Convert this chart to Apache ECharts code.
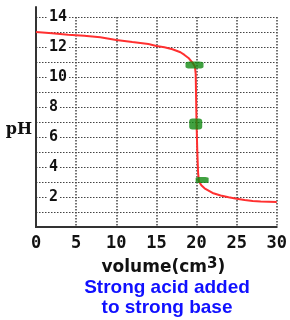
<!DOCTYPE html>
<html><head><meta charset="utf-8">
<script src="https://cdn.jsdelivr.net/npm/echarts@6/dist/echarts.min.js"></script>
<style>html,body{margin:0;padding:0;background:#fff}#c{width:290px;height:320px}</style>
</head><body><div id="c"></div>
<script>
const volume = [0, 2, 4, 6, 8, 10, 12, 14, 15, 16, 17, 18, 18.5, 19, 19.5, 19.8, 19.9, 20.0, 20.1, 20.2, 20.3, 20.6, 21, 22, 23, 24, 25, 26, 27, 28, 29, 30];
const pH = [13.0, 12.91, 12.82, 12.75, 12.65, 12.47, 12.33, 12.2, 12.07, 11.98, 11.85, 11.65, 11.47, 11.27, 10.95, 10.7, 10.2, 7.0, 5.0, 3.6, 3.05, 2.78, 2.58, 2.27, 2.1, 1.98, 1.88, 1.8, 1.74, 1.7, 1.68, 1.66];
const markVolume = [19.75, 19.9, 20.7];
const markPH = [10.8, 6.87, 3.13];
const markSize = [[18, 7], [13, 11], [13, 6]];
const xTicks = [0, 5, 10, 15, 20, 25, 30];
const yLabels = [2, 4, 6, 8, 10, 12, 14];

const chart = echarts.init(document.getElementById('c'), null, {renderer: 'canvas'});
chart.setOption({
  animation: false,
  backgroundColor: '#fff',
  grid: [
    {left: 36, right: 13, top: 17, bottom: 93},
    {left: 36, right: 13, top: 7, bottom: 93}
  ],
  title: {
    text: 'Strong acid added\nto strong base',
    left: 162, top: 273, textAlign: 'center',
    textStyle: {color: '#1010ff', fontFamily: 'Liberation Sans', fontWeight: 'bold', fontSize: 19, lineHeight: 20}
  },
  xAxis: [{
    gridIndex: 0, type: 'value', min: 0, max: 30, interval: 5,
    name: '{a|volume(cm}{s|3}{a|)}',
    nameLocation: 'middle', nameGap: 21,
    nameTextStyle: {
      padding: [0, 0, 0, 14],
      rich: {
        a: {fontFamily: 'DejaVu Sans', fontWeight: 'bold', fontSize: 17, color: '#111'},
        s: {fontFamily: 'DejaVu Sans', fontWeight: 'bold', fontSize: 15, color: '#111', verticalAlign: 'bottom', padding: [0, 0, 7, 0]}
      }
    },
    axisLine: {show: true, lineStyle: {color: '#333', width: 2}},
    axisTick: {show: false},
    axisLabel: {
      margin: 8, color: '#111', fontFamily: 'DejaVu Sans Mono', fontWeight: 'bold', fontSize: 17,
      formatter: v => xTicks.includes(v) ? String(v) : ''
    },
    splitLine: {show: true, lineStyle: {color: '#444', width: 1.5, type: [1.5, 1.5]}}
  }, {
    gridIndex: 1, type: 'value', min: 0, max: 30, show: false
  }],
  yAxis: [{
    gridIndex: 0, type: 'value', min: 0, max: 14, interval: 1,
    name: 'pH', nameLocation: 'middle', nameRotate: 0, nameGap: 4,
    nameTextStyle: {fontFamily: 'DejaVu Serif', fontWeight: 'bold', fontSize: 16, color: '#111', align: 'right', verticalAlign: 'top'},
    axisLine: {show: true, lineStyle: {color: '#333', width: 2}},
    axisTick: {show: false},
    axisLabel: {
      inside: true, margin: 12, color: '#111', fontFamily: 'DejaVu Sans Mono', fontWeight: 'bold', fontSize: 15,
      backgroundColor: '#fff', padding: [0, 2, 0, 1],
      formatter: v => yLabels.includes(v) ? String(v) : ''
    },
    splitLine: {show: true, lineStyle: {color: '#444', width: 1, type: [1.5, 1.5]}}
  }, {
    gridIndex: 1, type: 'value', min: 0, max: 1,
    axisLine: {show: true, lineStyle: {color: '#333', width: 2}},
    axisTick: {show: false}, axisLabel: {show: false}, splitLine: {show: false}
  }],
  series: [
    {
      type: 'line', xAxisIndex: 0, yAxisIndex: 0, data: volume.map((v, i) => [v, pH[i]]),
      showSymbol: false, smooth: false,
      lineStyle: {color: '#ff3030', width: 2}, z: 3
    },
    {
      type: 'scatter', xAxisIndex: 0, yAxisIndex: 0,
      data: markVolume.map((v, i) => ({value: [v, markPH[i]], symbolSize: markSize[i]})),
      symbol: 'roundRect', itemStyle: {color: '#118a11'}, z: 4
    }
  ]
});
</script></body></html>
